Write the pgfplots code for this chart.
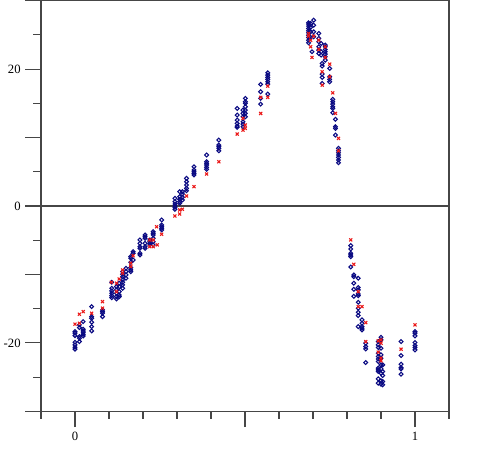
\documentclass[border=0pt]{standalone}
\usepackage{fontspec}
\setmainfont{Liberation Serif}
\usepackage{pgfplots}
\pgfplotsset{compat=1.18}

\definecolor{ptblue}{RGB}{10,10,130}
\definecolor{ptred}{RGB}{235,25,25}
\definecolor{axgray}{RGB}{70,70,70}

\begin{document}
\begin{tikzpicture}
\begin{axis}[
  scale only axis,
  width=306pt,height=308pt,
  xmin=-0.1,xmax=1.1,ymin=-30,ymax=30,
  axis line style={axgray,line width=0.9pt},
  tick style={axgray,line width=0.9pt},
  tick align=outside,
  xtick pos=bottom,ytick pos=left,
  xtick={0,0.5,1},xticklabels={0,,1},
  minor xtick={-0.1,0.1,0.2,0.3,0.4,0.6,0.7,0.8,0.9,1.1},
  ytick={-30,-20,-10,0,10,20,30},
  yticklabels={,-20,,0,,20,},
  minor ytick={-25,-15,-5,5,15,25},
  major tick length=11.75pt,
  minor tick length=5.75pt,
  tick label style={font=\fontsize{9.5}{10}\selectfont},
  clip=false,
]
\draw[axgray,line width=0.9pt] (axis cs:-0.1,0) -- (axis cs:1.1,0);
\coordinate (sw) at (rel axis cs:0,0);
\coordinate (ne) at (rel axis cs:1,1);
% blue circles
\addplot[only marks,mark=o,mark size=1.45pt,ptblue,mark options={line width=0.8pt}] coordinates {
(0,-18.35)(0,-18.58)(0,-18.93)(0,-19.90)(0,-20.29)(0,-20.63)(0,-20.92)
(0.013,-17.37)(0.013,-17.76)(0.013,-19.08)(0.013,-19.31)(0.013,-19.81)
(0.024,-16.89)(0.024,-18.0)(0.024,-18.25)(0.024,-18.44)(0.024,-18.73)(0.024,-18.98)
(0.049,-14.70)(0.049,-16.16)(0.049,-16.40)(0.049,-16.98)(0.049,-17.62)(0.049,-18.25)
(0.081,-15.18)(0.081,-15.43)(0.081,-15.66)(0.081,-16.16)
(0.108,-11.14)(0.108,-12.02)(0.108,-12.41)(0.108,-12.75)(0.108,-13.09)(0.108,-13.39)
(0.122,-11.78)(0.122,-12.26)(0.122,-12.75)(0.122,-13.24)(0.122,-13.58)
(0.130,-11.28)(0.130,-11.78)(0.130,-12.51)(0.130,-12.99)(0.130,-13.24)
(0.140,-9.59)(0.140,-9.97)(0.140,-10.32)(0.140,-10.80)(0.140,-11.14)(0.140,-11.53)(0.140,-12.02)
(0.150,-9.10)(0.150,-9.59)(0.150,-10.07)(0.150,-10.55)
(0.164,-7.40)(0.164,-7.64)(0.164,-8.22)(0.164,-9.01)(0.164,-9.34)(0.164,-9.59)
(0.171,-6.67)(0.171,-6.91)(0.171,-7.88)
(0.191,-4.96)(0.191,-5.45)(0.191,-5.94)(0.191,-6.18)(0.191,-6.91)(0.191,-7.15)
(0.206,-4.23)(0.206,-4.48)(0.206,-4.72)(0.206,-5.45)(0.206,-5.94)(0.206,-6.18)
(0.220,-4.96)(0.220,-5.21)(0.220,-5.45)(0.220,-5.69)
(0.230,-3.75)(0.230,-3.99)(0.230,-4.23)(0.230,-4.72)(0.230,-5.21)(0.230,-5.69)
(0.255,-2.04)(0.255,-2.77)(0.255,-3.02)(0.255,-3.26)(0.255,-3.50)
(0.294,1.12)(0.294,0.63)(0.294,0.29)(0.294,0.0)(0.294,-0.19)(0.294,-0.48)
(0.308,2.09)(0.308,1.36)(0.308,0.98)(0.308,0.63)(0.308,0.39)
(0.316,2.09)(0.316,1.75)(0.316,1.27)(0.316,0.88)
(0.328,4.04)(0.328,3.55)(0.328,3.07)(0.328,2.58)(0.328,2.23)
(0.350,5.74)(0.350,5.26)(0.350,5.01)(0.350,4.77)(0.350,4.53)
(0.387,7.45)(0.387,6.47)(0.387,6.23)(0.387,5.99)(0.387,5.65)(0.387,5.36)
(0.423,9.64)(0.423,8.91)(0.423,8.66)(0.423,8.42)(0.423,8.07)
(0.477,14.26)(0.477,13.28)(0.477,12.55)(0.477,11.68)(0.477,11.49)(0.477,12.07)
(0.494,14.01)(0.494,13.53)(0.494,13.04)(0.494,12.31)(0.494,11.97)(0.494,11.58)
(0.501,15.72)(0.501,15.23)(0.501,14.99)(0.501,14.50)(0.501,14.01)(0.501,13.53)(0.501,13.04)
(0.546,17.77)(0.546,16.69)(0.546,15.72)(0.546,14.89)
(0.567,19.46)(0.567,19.12)(0.567,18.79)(0.567,18.50)(0.567,18.15)(0.567,17.81)(0.567,16.35)
(0.687,26.76)(0.687,26.57)(0.687,26.28)(0.687,25.94)(0.687,25.60)(0.687,25.30)(0.687,24.96)(0.687,24.63)(0.687,24.23)(0.687,23.84)
(0.693,26.67)(0.693,26.09)(0.693,25.45)(0.693,24.63)
(0.697,22.53)
(0.702,27.15)(0.702,26.42)(0.702,25.45)(0.702,24.72)
(0.717,25.21)(0.717,24.48)(0.717,23.99)(0.717,23.26)(0.717,22.77)(0.717,22.29)
(0.724,23.75)(0.724,22.53)(0.724,22.04)
(0.727,20.83)(0.727,20.44)(0.727,19.27)(0.727,18.79)(0.727,17.91)
(0.736,23.50)(0.736,23.26)(0.736,22.87)(0.736,22.53)(0.736,22.19)(0.736,21.80)(0.736,21.31)
(0.749,20.10)(0.749,18.88)(0.749,18.50)(0.749,18.15)
(0.758,15.58)(0.758,15.23)(0.758,14.89)(0.758,14.50)(0.758,14.26)(0.758,13.62)
(0.766,12.66)(0.766,11.58)(0.766,11.34)(0.766,10.36)
(0.775,8.42)(0.775,8.07)(0.775,7.78)(0.775,7.45)(0.775,7.11)(0.775,6.72)(0.775,6.32)
(0.811,-5.79)(0.811,-6.28)(0.811,-6.91)(0.811,-7.15)(0.811,-7.40)(0.811,-8.91)
(0.820,-10.07)(0.820,-10.32)(0.820,-11.28)(0.820,-12.17)(0.820,-13.19)
(0.833,-10.55)(0.833,-11.92)(0.833,-12.26)(0.833,-12.85)(0.833,-13.09)(0.833,-14.06)(0.833,-14.94)(0.833,-15.52)(0.833,-16.01)(0.833,-17.62)
(0.844,-16.64)(0.844,-17.13)(0.844,-17.62)(0.844,-17.86)(0.844,-18.10)
(0.855,-20.05)(0.855,-20.54)(0.855,-20.88)(0.855,-22.87)
(0.892,-19.81)(0.892,-20.29)(0.892,-20.68)(0.892,-21.50)(0.892,-22.00)(0.892,-22.34)(0.892,-22.73)(0.892,-23.69)(0.892,-23.94)(0.892,-24.18)(0.892,-25.26)(0.892,-25.88)
(0.900,-19.17)(0.900,-19.56)(0.900,-20.78)(0.900,-21.75)(0.900,-22.24)(0.900,-23.21)(0.900,-23.80)(0.900,-24.43)(0.900,-25.55)(0.900,-26.03)
(0.905,-23.21)(0.905,-24.18)(0.905,-24.77)(0.905,-25.65)(0.905,-26.13)
(0.959,-19.81)(0.959,-21.85)(0.959,-23.11)(0.959,-23.60)(0.959,-23.80)(0.959,-24.57)
(1.000,-18.35)(1.000,-18.58)(1.000,-18.98)(1.000,-19.95)(1.000,-20.39)(1.000,-20.68)(1.000,-21.02)
};
% red crosses
\addplot[only marks,mark=x,mark size=1.6pt,ptred,mark options={line width=0.8pt}] coordinates {
(0,-17.27)(0.013,-15.81)(0.013,-17.12)(0.024,-15.43)(0.049,-15.66)(0.081,-13.97)(0.081,-14.93)
(0.107,-11.14)(0.122,-11.28)(0.122,-12.51)(0.130,-10.66)(0.140,-9.34)(0.140,-9.82)
(0.164,-8.36)(0.164,-8.86)(0.171,-7.26)(0.220,-4.96)(0.220,-5.94)(0.230,-4.96)(0.230,-5.94)
(0.242,-5.69)(0.240,-3.02)(0.255,-4.13)(0.294,-1.46)(0.308,-0.58)(0.308,-1.17)(0.316,-0.48)
(0.328,1.46)(0.350,2.82)(0.387,4.67)(0.423,6.47)(0.477,10.51)(0.494,12.80)(0.494,11.09)
(0.501,11.82)(0.501,11.34)(0.546,15.87)(0.546,13.53)(0.567,17.52)(0.567,15.87)
(0.687,25.21)(0.687,24.82)(0.693,24.23)(0.693,23.26)(0.697,21.71)(0.702,24.82)
(0.717,24.23)(0.717,22.87)(0.727,19.61)(0.727,17.66)(0.736,23.26)(0.736,21.71)
(0.749,20.73)(0.749,18.88)(0.758,16.54)(0.766,13.53)(0.775,9.88)(0.775,8.07)
(0.811,-4.96)(0.820,-8.52)(0.833,-12.51)(0.833,-14.70)(0.844,-14.70)(0.855,-17.04)(0.855,-19.81)
(0.892,-19.71)(0.892,-21.36)(0.900,-19.56)(0.900,-20.05)(0.900,-22.24)(0.900,-22.63)
(0.959,-20.92)(1.000,-17.37)
};
\end{axis}
\pgfresetboundingbox
\path[use as bounding box] ([xshift=-30.75pt,yshift=-30pt]sw) rectangle ([xshift=31.5pt,yshift=0.5pt]ne);
\end{tikzpicture}
\end{document}
